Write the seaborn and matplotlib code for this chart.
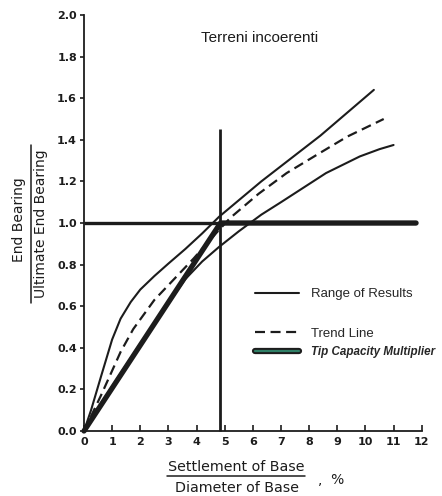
import numpy as np
import pandas as pd
import matplotlib
matplotlib.use("Agg")
import matplotlib.pyplot as plt
import matplotlib.patheffects as pe
from matplotlib.lines import Line2D
import seaborn as sns

sns.set_style("ticks")
plt.rcParams['font.family'] = ['DejaVu Sans']

# curve values
upper_x = [0.0, 0.25, 0.6, 1.0, 1.3, 1.66, 2.0, 2.5, 3.0, 3.6, 4.2, 4.8, 6.3, 8.4, 10.3]
upper_y = [0.0, 0.10, 0.26, 0.44, 0.54, 0.62, 0.68, 0.745, 0.805, 0.875, 0.95, 1.03, 1.20, 1.42, 1.64]

trend_x = [0.0, 0.6, 1.3, 1.75, 2.5, 3.2, 3.9, 4.55, 5.2, 6.2, 7.2, 8.3, 9.35, 10.65]
trend_y = [0.0, 0.17, 0.38, 0.49, 0.63, 0.73, 0.83, 0.93, 1.025, 1.14, 1.24, 1.33, 1.415, 1.50]

lower_x = [0.0, 1.0, 2.0, 3.0, 3.6, 4.2, 4.8, 5.5, 6.3, 7.0, 8.6, 9.8, 10.5, 11.0]
lower_y = [0.0, 0.215, 0.42, 0.615, 0.73, 0.815, 0.885, 0.96, 1.04, 1.10, 1.24, 1.32, 1.355, 1.375]

tip_x = [0.0, 4.8, 4.85, 11.8]
tip_y = [0.0, 0.99, 1.0, 1.0]

ref_h_x = [0.0, 11.8]
ref_h_y = [1.0, 1.0]
ref_v_x = [4.85, 4.85]
ref_v_y = [0.0, 1.45]

x_ticks = list(range(0, 13))
y_ticks = [0.0, 0.2, 0.4, 0.6, 0.8, 1.0, 1.2, 1.4, 1.6, 1.8, 2.0]

ink = '#1c1c1c'

fig = plt.figure(figsize=(4.42, 4.96), dpi=100)
ax = fig.add_axes([84 / 442, 1 - 431 / 496, (421.7 - 84) / 442, (431 - 15) / 496])

# reference lines
ax.plot(ref_h_x, ref_h_y, color=ink, lw=2.4, clip_on=False, solid_capstyle='butt')
ax.plot(ref_v_x, ref_v_y, color=ink, lw=2.0, clip_on=False, solid_capstyle='butt')

up = pd.DataFrame({'x': upper_x, 'y': upper_y})
lo = pd.DataFrame({'x': lower_x, 'y': lower_y})
tr = pd.DataFrame({'x': trend_x, 'y': trend_y})
tp = pd.DataFrame({'x': tip_x, 'y': tip_y})

sns.lineplot(data=lo, x='x', y='y', ax=ax, color=ink, lw=1.5, sort=False, estimator=None)
sns.lineplot(data=tp, x='x', y='y', ax=ax, color=ink, lw=3.8, sort=False, estimator=None)
sns.lineplot(data=up, x='x', y='y', ax=ax, color=ink, lw=1.5, sort=False, estimator=None)
sns.lineplot(data=tr, x='x', y='y', ax=ax, color=ink, lw=1.6, sort=False, estimator=None,
             dashes=False, linestyle=(0, (4.5, 2.5)))
for ln in ax.lines:
    ln.set_clip_on(False)
    ln.set_solid_joinstyle('round')
    ln.set_dash_joinstyle('round')

ax.set_xlim(0, 12)
ax.set_ylim(0, 2)
ax.set_xticks(x_ticks)
ax.set_yticks(y_ticks)
ax.set_xticklabels([str(t) for t in x_ticks])
ax.set_yticklabels([f"{t:.1f}" for t in y_ticks])
ax.tick_params(axis='x', direction='in', length=4, width=1.2, pad=4, labelsize=8, colors=ink)
ax.tick_params(axis='y', direction='out', length=3, width=1.2, pad=2, labelsize=8, colors=ink)
for lab in ax.get_xticklabels() + ax.get_yticklabels():
    lab.set_fontweight('bold')
sns.despine(ax=ax)
for s in ['left', 'bottom']:
    ax.spines[s].set_linewidth(1.3)
    ax.spines[s].set_color(ink)
ax.set_xlabel('')
ax.set_ylabel('')

# title
ax.text(0.52, 0.945, 'Terreni incoerenti', transform=ax.transAxes, ha='center', va='center',
        fontsize=11, family='Liberation Sans', color=ink)

# legend
h_range = Line2D([], [], color=ink, lw=1.5)
h_trend = Line2D([], [], color=ink, lw=1.6, linestyle=(0, (4.5, 2.5)))
h_tip = Line2D([], [], color='#2f7f66', lw=1.6,
               path_effects=[pe.Stroke(linewidth=4.5, foreground=ink), pe.Normal()])
leg_font = {'size': 9.5, 'family': 'Liberation Sans'}
leg1 = ax.legend([h_range], ['Range of Results'], frameon=False, loc='center left',
                 bbox_to_anchor=(0.47, 1 - (294 - 15) / 416), handlelength=3.4,
                 handletextpad=0.85, prop=leg_font)
ax.add_artist(leg1)
leg2 = ax.legend([h_trend, h_tip], ['Trend Line', 'Tip Capacity Multiplier'], frameon=False,
                 loc='center left', bbox_to_anchor=(0.47, 1 - (343 - 15) / 416), handlelength=3.4,
                 handletextpad=0.85, labelspacing=0.45, prop=leg_font)
leg2.get_texts()[1].set_fontstyle('italic')
leg2.get_texts()[1].set_fontweight('bold')
leg2.get_texts()[1].set_fontsize(8.4)

# axis labels as fractions
fig.text(19 / 442, 1 - 220 / 496, 'End Bearing', rotation=90, ha='center', va='center',
         fontsize=10, color=ink)
fig.text(41 / 442, 1 - 224 / 496, 'Ultimate End Bearing', rotation=90, ha='center', va='center',
         fontsize=10, color=ink)
fig.add_artist(Line2D([31 / 442, 31 / 442], [1 - 145 / 496, 1 - 303 / 496], color=ink, lw=1.1))

fig.text(236 / 442, 1 - 467 / 496, 'Settlement of Base', ha='center', va='center',
         fontsize=10.3, color=ink)
fig.add_artist(Line2D([167 / 442, 305 / 442], [1 - 476 / 496, 1 - 476 / 496], color=ink, lw=1.1))
fig.text(237 / 442, 1 - 488 / 496, 'Diameter of Base', ha='center', va='center',
         fontsize=10.3, color=ink)
fig.text(318 / 442, 1 - 480 / 496, ',  %', ha='left', va='center', fontsize=10, color=ink)

fig.savefig('out.png', dpi=100)
